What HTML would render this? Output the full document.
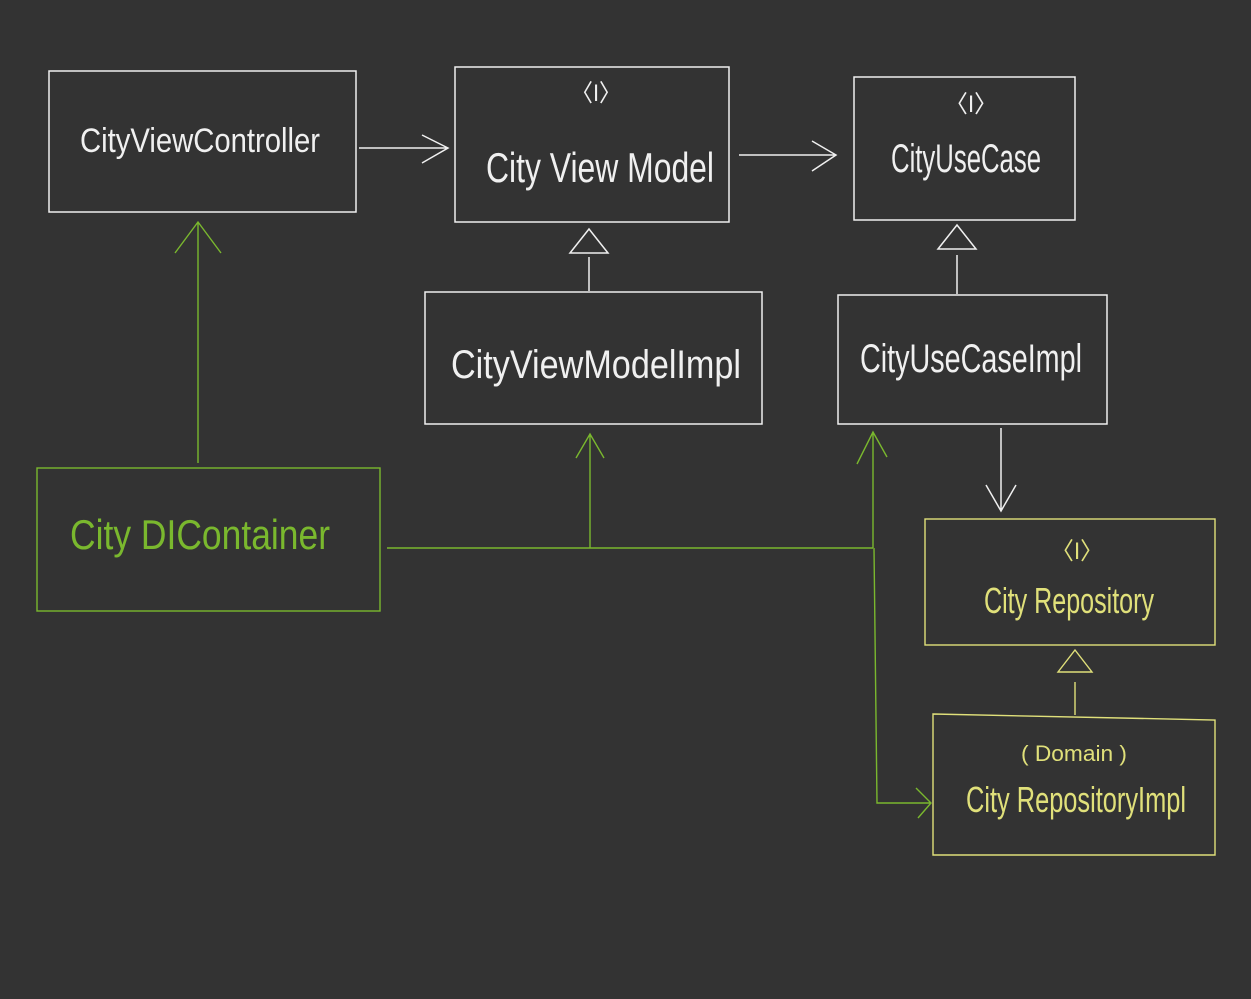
<!DOCTYPE html>
<html><head><meta charset="utf-8"><style>
html,body{margin:0;padding:0;background:#333333;}
svg{display:block}
text{font-family:"Liberation Sans",sans-serif;font-weight:normal}
</style></head><body>
<svg width="1251" height="999" viewBox="0 0 1251 999" xmlns="http://www.w3.org/2000/svg">
<rect width="1251" height="999" fill="#333333"/>
<g fill="none" stroke="#f0f0f0" stroke-width="1.5">
<rect x="49" y="71" width="307" height="141"/>
<rect x="455" y="67" width="274" height="155"/>
<rect x="854" y="77" width="221" height="143"/>
<rect x="425" y="292" width="337" height="132"/>
<rect x="838" y="295" width="269" height="129"/>
<path d="M359 148H448M422 135L448 148L422 163"/>
<path d="M739 155H836M812 141L836 155L812 171"/>
<path d="M589 291V257M570 253L589 229L608 253Z"/>
<path d="M957 294V255M938 249L957 225L976 249Z"/>
<path d="M1001 428V511M986 485L1001 511L1016 485"/>
</g>
<g fill="none" stroke="#7ab82e" stroke-width="1.4">
<rect x="37" y="468" width="343" height="143"/>
<path d="M198 463V222M175 253L198 222L221 253"/>
<path d="M387 548H873M590 548V434M576 458L590 434L604 458"/>
<path d="M873 548V432M857 464L873 432L887 457M874 548L877 803H931M916 788L931 803L918 818"/>
</g>
<g fill="none" stroke="#e0e07a" stroke-width="1.4">
<rect x="925" y="519" width="290" height="126"/>
<path d="M933 714L1215 720V855H933Z"/>
<path d="M1075 715V682M1058 672L1075 650L1092 672Z"/>
</g>
<g fill="#f0f0f0" font-size="34">
<text x="80" y="152" textLength="240" lengthAdjust="spacingAndGlyphs">CityViewController</text>
<text x="571" y="101" font-size="24" textLength="50" lengthAdjust="spacingAndGlyphs">〈I〉</text>
<text x="486" y="182" font-size="42" textLength="228" lengthAdjust="spacingAndGlyphs">City View Model</text>
<text x="945" y="112" font-size="24" textLength="52" lengthAdjust="spacingAndGlyphs">〈I〉</text>
<text x="891" y="172" font-size="40" textLength="150" lengthAdjust="spacingAndGlyphs">CityUseCase</text>
<text x="451" y="378" font-size="40" textLength="290" lengthAdjust="spacingAndGlyphs">CityViewModelImpl</text>
<text x="860" y="372" font-size="40" textLength="222" lengthAdjust="spacingAndGlyphs">CityUseCaseImpl</text>
</g>
<text x="70" y="549" fill="#7ab82e" font-size="42" textLength="260" lengthAdjust="spacingAndGlyphs">City DIContainer</text>
<g fill="#e0e07a">
<text x="1051" y="559" font-size="24" textLength="52" lengthAdjust="spacingAndGlyphs">〈I〉</text>
<text x="984" y="613" font-size="36" textLength="170" lengthAdjust="spacingAndGlyphs">City Repository</text>
<text x="1021" y="761" font-size="22" textLength="106" lengthAdjust="spacingAndGlyphs">( Domain )</text>
<text x="966" y="812" font-size="36" textLength="220" lengthAdjust="spacingAndGlyphs">City RepositoryImpl</text>
</g>
</svg>
</body></html>
